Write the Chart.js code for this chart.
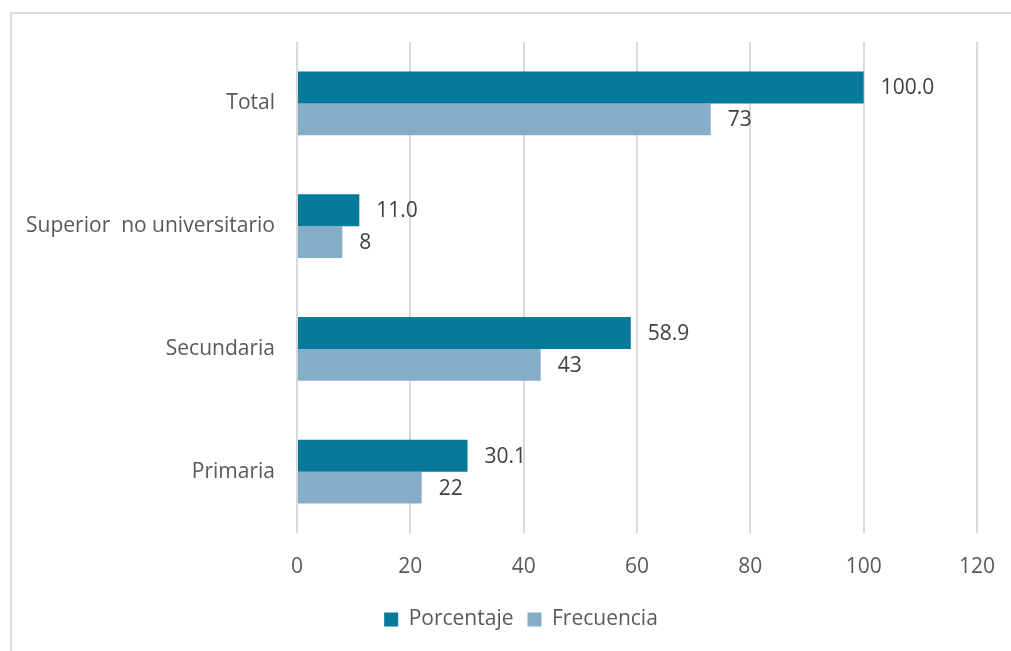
<!DOCTYPE html>
<html>
<head>
<meta charset="utf-8">
<script src="https://cdn.jsdelivr.net/npm/chart.js@4/dist/chart.umd.min.js"></script>
<style>
  html, body { margin: 0; background: #fff; overflow: hidden; }
  #caja { position: absolute; left: 10px; top: 12px; width: 1100px; height: 700px; border-left: 2px solid #d9d9d9; border-top: 2px solid #d9d9d9; }
  #wrap { position: absolute; left: 0; top: 0; width: 1011px; height: 651px; }
</style>
</head>
<body>
<div id="caja"></div>
<div id="wrap"><canvas id="grafico"></canvas></div>
<script>
const categorias = ['Total', 'Superior  no universitario', 'Secundaria', 'Primaria']
const porcentaje = [100.0, 11.0, 58.9, 30.1]
const frecuencia = [73, 8, 43, 22]
const ejeX = { min: 0, max: 120, paso: 20 }

const fuente = '"Open Sans", sans-serif'
const tam = 21

// etiquetas de valor al final de cada barra
const etiquetas = {
  id: 'etiquetas',
  afterDatasetsDraw(chart) {
    const ctx = chart.ctx
    ctx.save()
    ctx.font = `${tam}px ${fuente}`
    ctx.fillStyle = '#404040'
    ctx.textBaseline = 'middle'
    chart.data.datasets.forEach((ds, i) => {
      chart.getDatasetMeta(i).data.forEach((bar, j) => {
        const v = ds.data[j]
        const txt = i === 0 ? v.toFixed(1) : String(v)
        ctx.fillText(txt, bar.x + 17, bar.y + 1)
      })
    })
    ctx.restore()
  }
}

// la leyenda del original no esta centrada en el lienzo
const moverLeyenda = {
  id: 'moverLeyenda',
  afterLayout(chart) {
    const l = chart.legend
    const d = 521 - (l.left + l.right) / 2
    l.left += d
    l.right += d
  }
}

new Chart(document.getElementById('grafico'), {
  type: 'bar',
  data: {
    labels: categorias,
    datasets: [
      { label: 'Porcentaje', data: porcentaje, backgroundColor: '#07799a' },
      { label: 'Frecuencia', data: frecuencia, backgroundColor: '#86adc8' }
    ]
  },
  options: {
    indexAxis: 'y',
    responsive: true,
    maintainAspectRatio: false,
    animation: false,
    layout: { padding: { left: 12, right: 34, top: 42, bottom: 11 } },
    categoryPercentage: 0.52,
    barPercentage: 1,
    plugins: {
      tooltip: { enabled: false },
      legend: {
        position: 'bottom',
        labels: { color: '#595959', font: { family: fuente, size: tam }, boxWidth: 14, boxHeight: 14, padding: 14 }
      }
    },
    scales: {
      x: {
        min: ejeX.min,
        max: ejeX.max,
        ticks: { stepSize: ejeX.paso, color: '#595959', font: { family: fuente, size: tam }, padding: 21 },
        grid: { color: '#d9d9d9', lineWidth: 2, drawTicks: false },
        border: { display: false },
        afterFit(s) {
          s.height = 62
          s.paddingLeft = 0
          s.paddingRight = 0
        }
      },
      y: {
        ticks: { color: '#595959', font: { family: fuente, size: tam }, padding: 14 },
        grid: { display: false },
        border: { display: false },
        afterFit(s) {
          s.width = 285
          s.paddingTop = 0
          s.paddingBottom = 0
        }
      }
    }
  },
  plugins: [etiquetas, moverLeyenda]
})
</script>
</body>
</html>
